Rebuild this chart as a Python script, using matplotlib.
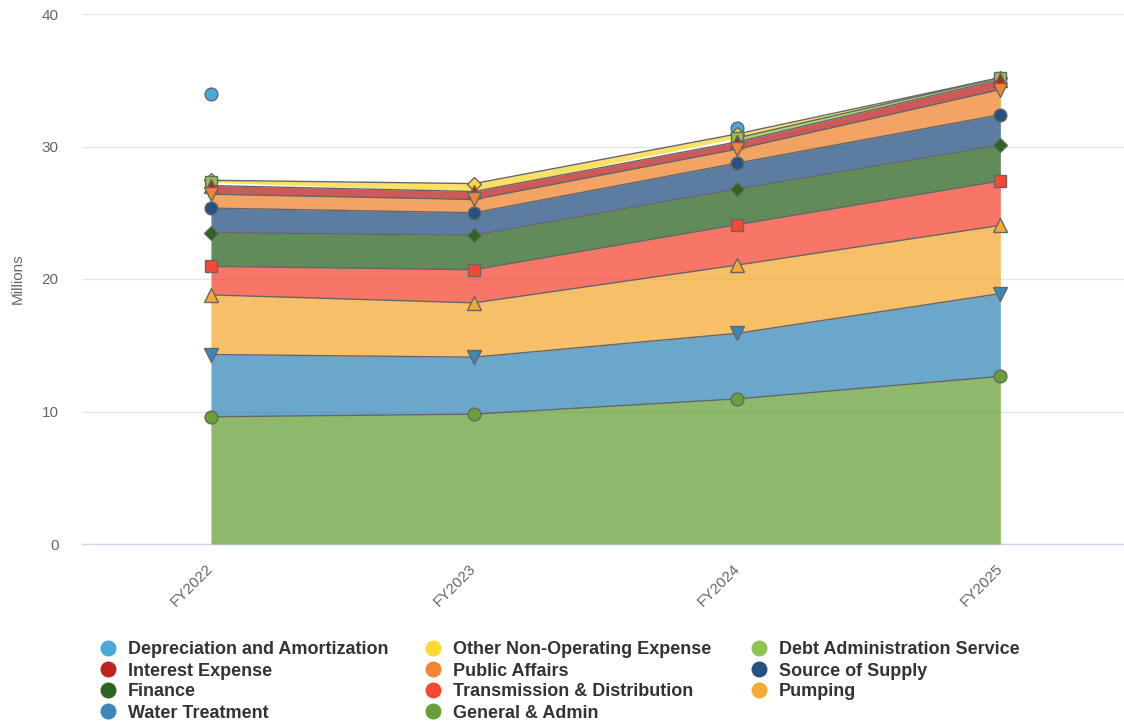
import numpy as np
import matplotlib.pyplot as plt
from matplotlib.lines import Line2D

plt.rcParams['font.family'] = ['Liberation Sans', 'DejaVu Sans']

categories = ['FY2022', 'FY2023', 'FY2024', 'FY2025']

# values in millions, nan = no value that year
depreciation = [6.55, np.nan, 0.45, np.nan]
other_non_op = [0.15, 0.6, 0.3, 0.0]
debt_admin = [0.25, np.nan, 0.3, 0.15]
interest = [0.65, 0.6, 0.55, 0.75]
public_affairs = [1.05, 1.0, 1.05, 1.9]
source_supply = [1.85, 1.7, 1.95, 2.3]
finance = [2.55, 2.6, 2.7, 2.7]
transmission = [2.15, 2.5, 3.05, 3.35]
pumping = [4.5, 4.1, 5.15, 5.15]
water_treatment = [4.7, 4.3, 4.95, 6.25]
general_admin = [9.6, 9.8, 10.95, 12.65]

names = ['Depreciation and Amortization', 'Other Non-Operating Expense', 'Debt Administration Service',
         'Interest Expense', 'Public Affairs', 'Source of Supply',
         'Finance', 'Transmission & Distribution', 'Pumping',
         'Water Treatment', 'General & Admin']
series = [depreciation, other_non_op, debt_admin, interest, public_affairs, source_supply,
          finance, transmission, pumping, water_treatment, general_admin]

colors = ['#4aa9db', '#fcd833', '#8dc550', '#bd2220', '#f08631', '#255282',
          '#2c6420', '#f64834', '#f5aa36', '#3a88ba', '#68a038']
markers = ['o', 'D', 's', '^', 'v', 'o', 'D', 's', '^', 'v', 'o']
sizes = {'o': 9.2, 'D': 7.0, 's': 9.0, '^': 10.0, 'v': 10.0}

fig = plt.figure(figsize=(11.24, 7.21), dpi=100)
ax = fig.add_axes([82 / 1124, 177 / 721, 1042 / 1124, 530 / 721])

x = np.arange(len(categories))
base = np.zeros(len(categories))

# stack from the bottom series (last one) upward
for i in reversed(range(len(series))):
    vals = np.array(series[i], dtype=float)
    top = base + np.nan_to_num(vals)
    shown = np.where(np.isnan(vals), np.nan, top)
    z = 2 + i * 0.1
    ax.fill_between(x, base, shown, color=colors[i], alpha=0.75, lw=0, zorder=z)
    ax.plot(x, shown, color='#666666', lw=1, marker=markers[i], ms=sizes[markers[i]],
            mfc=colors[i], mec='#666666', mew=1, zorder=z + 0.05)
    base = top

ax.set_xlim(-0.49, 3.47)
ax.set_ylim(0, 40)
ax.set_yticks([0, 10, 20, 30, 40])
ax.set_xticks(x)
ax.set_xticklabels(categories)
ax.grid(axis='y', color='#e6e6e6', lw=1)
ax.set_axisbelow(True)
for s in ['top', 'right', 'left']:
    ax.spines[s].set_visible(False)
ax.spines['bottom'].set_color('#ccd6eb')
ax.spines['bottom'].set_linewidth(1)
ax.spines['bottom'].set_zorder(1)

ax.tick_params(axis='y', length=0, pad=17, labelsize=11, labelcolor='#666666')
ax.tick_params(axis='x', length=0, pad=16, labelsize=11, labelcolor='#666666')
plt.setp(ax.get_xticklabels(), rotation=45, ha='right', va='center', rotation_mode='anchor')

fig.text(18 / 1124, 1 - 279 / 721, 'Millions', rotation=90, ha='center', va='center',
         fontsize=11, color='#666666')

# legend: 3 columns, filled row by row
col_x = [108, 433, 759]
row_y = [648, 669, 690, 711]
for i, (name, c) in enumerate(zip(names, colors)):
    r, col = divmod(i, 3)
    fx = col_x[col] / 1124
    fy = 1 - row_y[r] / 721
    fig.add_artist(Line2D([fx], [fy], marker='o', ms=11.5, color=c, mew=0,
                          transform=fig.transFigure))
    fig.text((col_x[col] + 20) / 1124, fy, name, fontsize=13, fontweight='bold',
             color='#333333', va='center_baseline')

fig.savefig('out.png', dpi=100)
